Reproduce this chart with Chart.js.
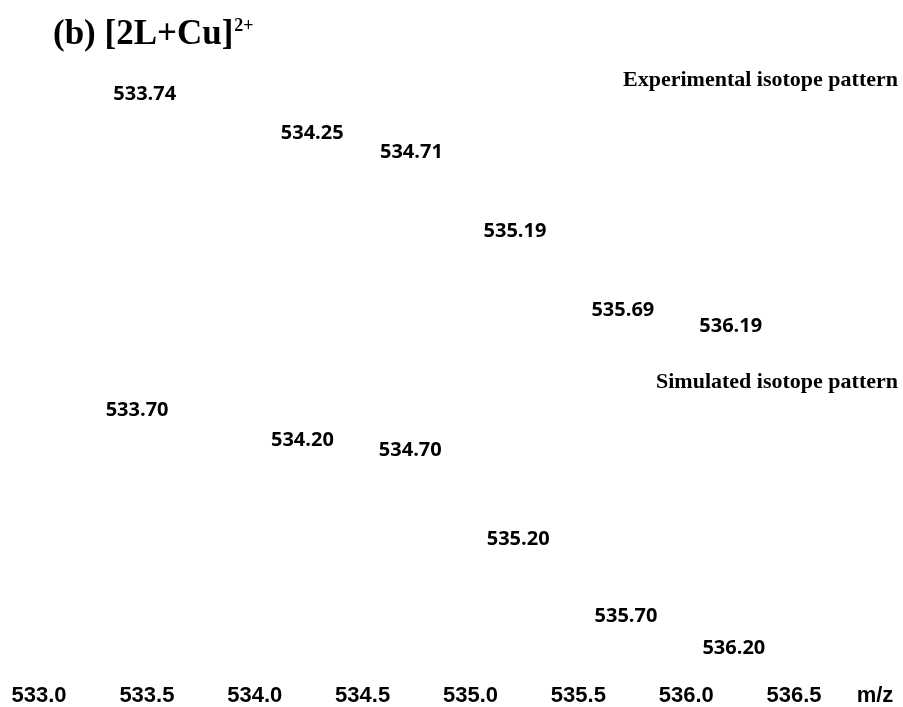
<!DOCTYPE html>
<html>
<head>
<meta charset="utf-8">
<script src="https://cdn.jsdelivr.net/npm/chart.js@4/dist/chart.umd.min.js"></script>
<style>
  html, body { margin: 0; padding: 0; background: #fff; }
  #wrap { width: 903px; height: 707px; }
</style>
</head>
<body>
<div id="wrap"><canvas id="msChart"></canvas></div>
<script>
// isotope peaks of [2L+Cu]2+ (m/z, relative intensity %)
const expMz = [533.74, 534.25, 534.71, 535.19, 535.69, 536.19];
const expInt = [100, 85, 78, 48, 18, 12];
const simMz = [533.70, 534.20, 534.70, 535.20, 535.70, 536.20];
const simInt = [100, 88, 84, 48, 17, 4];
const mzTicks = [533.0, 533.5, 534.0, 534.5, 535.0, 535.5, 536.0, 536.5];

const toPoints = (xs, ys) => xs.map((x, i) => ({ x: x, y: ys[i] }));

// peak labels sit just above each stick, the base peak's label to its left
const peakLabels = {
    id: 'peakLabels',
    afterDatasetsDraw(chart) {
        const ctx = chart.ctx;
        ctx.save();
        ctx.fillStyle = '#000';
        ctx.font = 'bold 20px "Open Sans"';
        ctx.textBaseline = 'middle';
        chart.data.datasets.forEach((ds, di) => {
            const meta = chart.getDatasetMeta(di);
            const maxVal = Math.max(...ds.data.map(p => p.y));
            meta.data.forEach((bar, i) => {
                const p = ds.data[i];
                const txt = p.x.toFixed(2);
                if (p.y === maxVal) {
                    ctx.textAlign = 'right';
                    ctx.fillText(txt, bar.x - 22, bar.y - 12);
                } else {
                    ctx.textAlign = 'center';
                    ctx.fillText(txt, bar.x + 4, bar.y - 12);
                }
            });
        });
        ctx.restore();
    }
};

// figure caption, panel names and the m/z unit
const decorations = {
    id: 'decorations',
    afterDraw(chart) {
        const ctx = chart.ctx;
        const area = chart.chartArea;
        ctx.save();
        ctx.fillStyle = '#000';
        ctx.textBaseline = 'alphabetic';
        ctx.textAlign = 'left';
        ctx.font = 'bold 35px "Liberation Serif"';
        const main = '(b) [2L+Cu]';
        ctx.fillText(main, 53, 44);
        const w = ctx.measureText(main).width;
        ctx.font = 'bold 18px "Liberation Serif"';
        ctx.fillText('2+', 53 + w + 1, 31);

        ctx.textAlign = 'right';
        ctx.textBaseline = 'middle';
        ctx.font = 'bold 22px "Liberation Serif"';
        ctx.fillText('Experimental isotope pattern', area.right - 2, 80);
        ctx.fillText('Simulated isotope pattern', area.right - 2, 382);

        // unit on the same line as the tick labels
        const xs = chart.scales.x;
        const item = xs.getLabelItems()[0];
        ctx.textAlign = 'center';
        ctx.textBaseline = item.options.textBaseline;
        ctx.font = 'bold 22px "Liberation Sans"';
        ctx.fillText('m/z', 875, item.options.translation[1] + item.textOffset);
        ctx.restore();
    }
};

new Chart(document.getElementById('msChart'), {
    type: 'bar',
    data: {
        datasets: [
            {
                label: 'Experimental',
                data: toPoints(expMz, expInt),
                yAxisID: 'yExp',
                backgroundColor: 'rgba(0,0,0,0)',
                barThickness: 1
            },
            {
                label: 'Simulated',
                data: toPoints(simMz, simInt),
                yAxisID: 'ySim',
                backgroundColor: 'rgba(0,0,0,0)',
                barThickness: 1
            }
        ]
    },
    options: {
        responsive: true,
        maintainAspectRatio: false,
        animation: false,
        layout: { padding: { left: 0, right: 3, top: 40, bottom: -6 } },
        plugins: {
            legend: { display: false },
            tooltip: { enabled: false }
        },
        scales: {
            x: {
                type: 'linear',
                offset: false,
                min: 532.819,
                max: 536.991,
                grid: { display: false, offset: false },
                border: { display: false },
                afterBuildTicks: s => { s.ticks = mzTicks.map(v => ({ value: v })); },
                ticks: {
                    autoSkip: false,
                    maxRotation: 0,
                    padding: 4,
                    color: '#000',
                    font: { family: 'Liberation Sans', weight: 'bold', size: 22 },
                    callback: v => v.toFixed(1)
                }
            },
            yExp: {
                display: false,
                min: -113.6,
                max: 125
            },
            ySim: {
                display: false,
                min: 0,
                max: 254
            }
        }
    },
    plugins: [peakLabels, decorations]
});
</script>
</body>
</html>
